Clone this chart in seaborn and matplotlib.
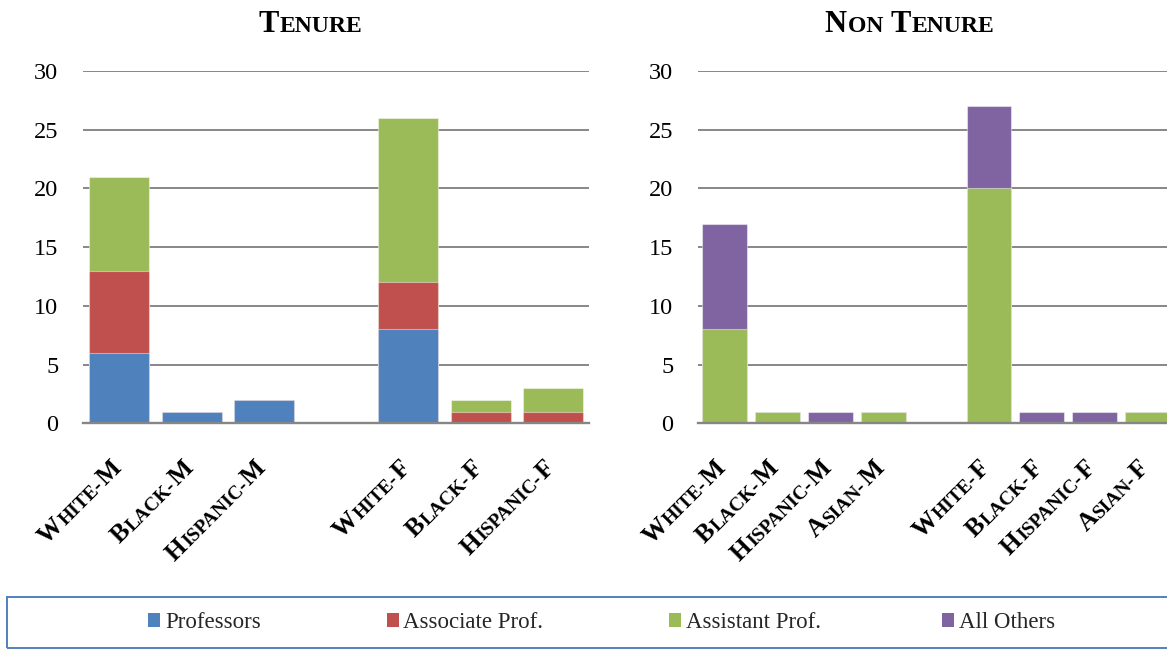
import numpy as np
import pandas as pd
import matplotlib
matplotlib.use("Agg")
import matplotlib.pyplot as plt
import seaborn as sns
from matplotlib.patches import Rectangle, Patch
from matplotlib.transforms import IdentityTransform

# ---------------- data ----------------
tenure_cats = ["White-M", "Black-M", "Hispanic-M", "White-F", "Black-F", "Hispanic-F"]
tenure_prof = [6, 1, 2, 8, 0, 0]
tenure_assoc = [7, 0, 0, 4, 1, 1]
tenure_asst = [8, 0, 0, 14, 1, 2]

non_cats = ["White-M", "Black-M", "Hispanic-M", "Asian-M",
            "White-F", "Black-F", "Hispanic-F", "Asian-F"]
non_asst = [8, 1, 0, 1, 20, 0, 0, 1]
non_others = [9, 0, 1, 0, 7, 1, 1, 0]

series = ["Professors", "Associate Prof.", "Assistant Prof.", "All Others"]
colors = ["#4F81BD", "#C0504D", "#9BBB59", "#8064A2"]
yticks = [0, 5, 10, 15, 20, 25, 30]
titles = ["Tenure", "Non Tenure"]

# ---------------- style ----------------
sns.set_style("white")
SERIF = ["Liberation Serif", "DejaVu Serif"]
plt.rcParams["font.family"] = SERIF

W, H = 1167, 650
fig = plt.figure(figsize=(W / 100, H / 100), dpi=100)
fig.patch.set_facecolor("white")


def px_axes(l, r, top, bottom):
    return fig.add_axes([l / W, 1 - bottom / H, (r - l) / W, (bottom - top) / H])


ax1 = px_axes(83.3, 589, 70.9, 423.3)
ax2 = px_axes(698.3, 1174, 70.9, 423.3)
GAP = " "


def stacked(ax, cats, layers, layer_colors, width):
    order = cats[:len(cats) // 2] + [GAP] + cats[len(cats) // 2:]
    cum = np.cumsum(np.array(layers, float), axis=0)
    for k in range(len(layers) - 1, -1, -1):
        df = pd.DataFrame({"cat": cats + [GAP], "val": list(cum[k]) + [0.0]})
        sns.barplot(data=df, x="cat", y="val", order=order, color=layer_colors[k],
                    saturation=1, width=width, errorbar=None, ax=ax,
                    edgecolor=(1, 1, 1, 0.45), linewidth=0.8)
    ax.set_xlim(-0.5, len(order) - 0.5)
    ax.set_ylim(0, 30)
    ax.set_yticks(yticks)
    ax.set_xticks([])
    ax.set_xlabel("")
    ax.set_ylabel("")
    ax.yaxis.grid(True, color="#878787", linewidth=1.4)
    ax.set_axisbelow(True)
    for s in ["top", "right", "left"]:
        ax.spines[s].set_visible(False)
    ax.spines["bottom"].set_color("#868686")
    ax.spines["bottom"].set_linewidth(1.7)
    ax.tick_params(axis="y", length=0, pad=18, labelsize=17.5, labelcolor="black")
    return order


order1 = stacked(ax1, tenure_cats, [tenure_prof, tenure_assoc, tenure_asst],
                 colors[:3], 0.83)
order2 = stacked(ax2, non_cats, [non_asst, non_others], colors[2:], 0.85)

renderer = fig.canvas.get_renderer()


def tw(s, size, weight):
    t = fig.text(0, 0, s + "|", fontsize=size, fontweight=weight, family=SERIF)
    w1 = t.get_window_extent(renderer).width
    t.set_text("|")
    w2 = t.get_window_extent(renderer).width
    t.remove()
    return w1 - w2


def split_sc(s):
    parts = []
    for ch in s:
        big = ch.isupper()
        c = ch.upper()
        if parts and parts[-1][1] == big:
            parts[-1][0] += c
        else:
            parts.append([c, big])
    return parts


def sc_text(x, y, s, big, small, rot=0.0, ha="left", weight="bold", gap=0.0):
    parts = split_sc(s)
    widths = [tw(p, big if b else small, weight) + gap for p, b in parts]
    total = sum(widths) - gap
    th = np.deg2rad(rot)
    u = np.array([np.cos(th), np.sin(th)])
    p0 = np.array([x, y], float)
    if ha == "right":
        start = p0 - total * u
    elif ha == "center":
        start = p0 - total / 2 * u
    else:
        start = p0
    cum = 0.0
    for (p, b), w in zip(parts, widths):
        pos = start + cum * u
        fig.text(pos[0], pos[1], p, transform=IdentityTransform(),
                 fontsize=big if b else small, fontweight=weight, family=SERIF,
                 rotation=rot, rotation_mode="anchor", ha="left", va="baseline",
                 color="black")
        cum += w


# category labels (small caps, rotated 45 degrees)
BIG, SMALL = 18.4, 14.0
capH = 0.66 * BIG * 100 / 72
for ax, order, dx in [(ax1, order1, 3.0), (ax2, order2, 2.0)]:
    y0 = ax.transData.transform((0, 0))[1]
    for i, cat in enumerate(order):
        if cat == GAP:
            continue
        xc = ax.transData.transform((i, 0))[0]
        ex = xc + dx
        ey = y0 - 34 - capH * 0.7071
        sc_text(ex, ey, cat, BIG, SMALL, rot=45, ha="right", gap=1.0)

# titles
sc_text(310.5, H - 31.7, titles[0], 22, 17, ha="center", gap=1.0)
sc_text(909.5, H - 31.7, titles[1], 22, 17, ha="center", gap=1.0)

# legend box and entries
fig.add_artist(Rectangle((7.3 / W, (H - 648.3) / H), (1180 - 7.3) / W, (648.3 - 596.7) / H,
                         transform=fig.transFigure, fill=False,
                         edgecolor="#4F81BD", linewidth=1.4))
leg_x = [148.3, 386.7, 669, 942.3]
for name, col, xl in zip(series, colors, leg_x):
    fig.legend(handles=[Patch(facecolor=col, edgecolor="none")], labels=[name],
               loc="center left", bbox_to_anchor=(xl / W, 1 - 622.5 / H),
               bbox_transform=fig.transFigure, frameon=False, fontsize=16.5,
               handlelength=0.52, handleheight=0.52, handletextpad=0.2,
               borderpad=0, borderaxespad=0)

fig.savefig("out.png", dpi=100)
